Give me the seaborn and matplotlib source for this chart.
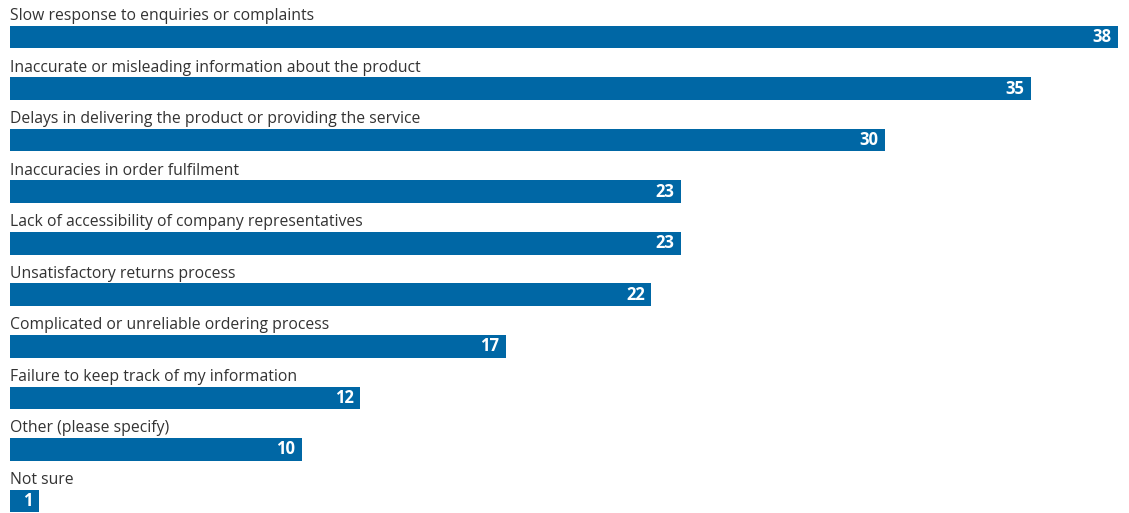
import matplotlib
matplotlib.use("Agg")
import matplotlib.pyplot as plt
import seaborn as sns
import pandas as pd

categories = [
    "Slow response to enquiries or complaints",
    "Inaccurate or misleading information about the product",
    "Delays in delivering the product or providing the service",
    "Inaccuracies in order fulfilment",
    "Lack of accessibility of company representatives",
    "Unsatisfactory returns process",
    "Complicated or unreliable ordering process",
    "Failure to keep track of my information",
    "Other (please specify)",
    "Not sure",
]
values = [38, 35, 30, 23, 23, 22, 17, 12, 10, 1]

bar_color = "#0067A5"
text_color = "#333333"

sns.set_theme(style="white")
plt.rcParams["font.family"] = ["Open Sans", "DejaVu Sans"]

df = pd.DataFrame({"category": categories, "value": values})

W, H = 1129, 513
fig = plt.figure(figsize=(W / 100, H / 100), dpi=100)
ax = fig.add_axes([10 / W, 0, 1108 / W, 1])

sns.barplot(data=df, y="category", x="value", orient="h", color=bar_color,
            width=0.44, saturation=1, linewidth=0, ax=ax)

ax.set_xlim(0, 38)
ax.set_ylim(9.232, -0.7176)
ax.axis("off")

for i, (cat, val) in enumerate(zip(categories, values)):
    ax.text(0, i - 0.33, cat, ha="left", va="baseline", fontsize=11.3,
            color=text_color, clip_on=False)
    ax.annotate(str(val), xy=(val, i), xytext=(-4.5, 0), textcoords="offset points",
                ha="right", va="center", fontsize=12, fontweight="bold",
                color="white")

fig.savefig("out.png", dpi=100)
